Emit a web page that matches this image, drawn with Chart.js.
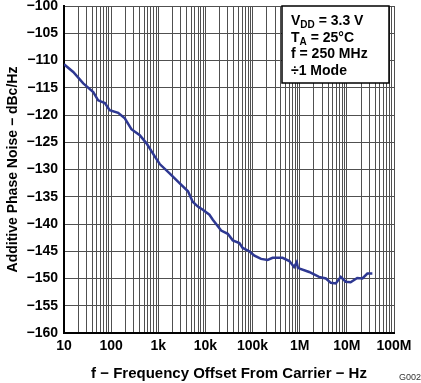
<!DOCTYPE html>
<html>
<head>
<meta charset="utf-8">
<script src="https://cdn.jsdelivr.net/npm/chart.js@4/dist/chart.umd.min.js"></script>
<style>
  html, body { margin: 0; padding: 0; background: #fff; }
  canvas { display: block; }
</style>
</head>
<body>
<canvas id="noiseChart" width="421" height="383"></canvas>
<script>
/* Данные кривой: частота отстройки (Гц) и фазовый шум (dBc/Hz) */
const freqHz = [
    10, 15.7, 25.6, 41.7, 53, 73.6, 93, 141, 195, 269, 405, 562, 841,
    1072, 1738, 2818, 4266, 5370, 6918, 8810, 12160, 14350, 21580, 29790,
    38020, 52480, 61660, 85110, 109600, 151400, 208900, 266100, 432500,
    602600, 758600, 865000, 912000, 1.0e6, 1.585e6, 2.57e6, 3.59e6,
    4.57e6, 5.82e6, 7.41e6, 9.48e6, 1.2e7, 1.66e7, 2.14e7, 2.72e7, 3.47e7
];
const noiseDb = [
    -110.7, -112.1, -114.2, -115.8, -117.3, -117.8, -119.1, -119.6, -120.6,
    -122.6, -123.7, -125.2, -127.6, -129.0, -130.7, -132.5, -134.0, -135.9,
    -136.8, -137.4, -138.3, -139.2, -141.2, -141.8, -143.0, -143.5, -144.4,
    -145.0, -145.8, -146.4, -146.6, -146.2, -146.2, -146.8, -147.9, -147.0,
    -148.0, -148.2, -148.8, -149.7, -150.0, -150.8, -150.9, -149.7, -150.6,
    -150.7, -149.9, -150.0, -149.1, -149.1
];

/* Подписи оси X (декады) */
const decadeValues = [10, 100, 1e3, 1e4, 1e5, 1e6, 1e7, 1e8];
const decadeLabels = ["10", "100", "1k", "10k", "100k", "1M", "10M", "100M"];

/* Деления оси Y */
const yTicks = [-160, -155, -150, -145, -140, -135, -130, -125, -120, -115, -110, -105, -100];

/* Текст в рамке условий */
const condLines = [
    ["V", "DD", " = 3.3 V"],
    ["T", "A", " = 25°C"],
    ["f = 250 MHz", "", ""],
    ["÷1 Mode", "", ""]
];

const FONT = "'Liberation Sans', Arial, sans-serif";

// все деления 1..9 в каждой декаде
function buildLogTicks() {
    const ticks = [];
    for (let i = 0; i < decadeValues.length - 1; i++) {
        for (let m = 1; m <= 9; m++) ticks.push({ value: decadeValues[i] * m });
    }
    ticks.push({ value: decadeValues[decadeValues.length - 1] });
    return ticks;
}

function decadeLabel(v) {
    const idx = decadeValues.findIndex(d => Math.abs(d - v) / d < 1e-6);
    return idx >= 0 ? decadeLabels[idx] : "";
}

/* Рамка с условиями измерения и шифр графика */
const annotationsPlugin = {
    id: "annotations",
    afterDraw(chart) {
        const ctx = chart.ctx;
        const area = chart.chartArea;
        ctx.save();

        const bx = 282, by = area.top, bw = 107, bh = 77;
        ctx.fillStyle = "#fff";
        ctx.fillRect(bx, by, bw, bh);
        ctx.strokeStyle = "#000";
        ctx.lineWidth = 1.5;
        ctx.strokeRect(bx, by, bw, bh);

        ctx.fillStyle = "#000";
        ctx.textBaseline = "middle";
        condLines.forEach((parts, i) => {
            const y = area.top + 15.5 + i * 16.5;
            let x = 291;
            ctx.font = "bold 14px " + FONT;
            ctx.fillText(parts[0], x, y);
            x += ctx.measureText(parts[0]).width;
            if (parts[1]) {
                ctx.font = "bold 10px " + FONT;
                ctx.fillText(parts[1], x, y + 4);
                x += ctx.measureText(parts[1]).width;
            }
            if (parts[2]) {
                ctx.font = "bold 14px " + FONT;
                ctx.fillText(parts[2], x, y);
            }
        });

        ctx.font = "9px " + FONT;
        ctx.fillStyle = "#333";
        ctx.textAlign = "right";
        ctx.fillText("G002", 421, 378);
        ctx.restore();
    }
};

const points = freqHz.map((f, i) => ({ x: f, y: noiseDb[i] }));

new Chart(document.getElementById("noiseChart"), {
    type: "line",
    data: {
        datasets: [{
            data: points,
            borderColor: "#2e3892",
            borderWidth: 2.5,
            pointRadius: 0,
            tension: 0,
            fill: false
        }]
    },
    options: {
        responsive: false,
        animation: false,
        layout: { padding: { top: 6, right: 27, left: 0, bottom: 0 } },
        plugins: {
            legend: { display: false },
            tooltip: { enabled: false }
        },
        scales: {
            x: {
                type: "logarithmic",
                min: 10,
                max: 1e8,
                afterBuildTicks: scale => { scale.ticks = buildLogTicks(); },
                afterFit: scale => {
                    scale.height = 50;
                    scale.paddingLeft = 0;
                    scale.paddingRight = 0;
                },
                grid: { color: "#505050", lineWidth: 1, drawTicks: false },
                border: { color: "#000", width: 2 },
                ticks: {
                    autoSkip: false,
                    maxRotation: 0,
                    padding: 5,
                    color: "#000",
                    font: { family: FONT, size: 14, weight: "bold" },
                    callback: v => decadeLabel(v)
                },
                title: {
                    display: true,
                    text: "f − Frequency Offset From Carrier − Hz",
                    color: "#000",
                    font: { family: FONT, size: 15, weight: "bold" },
                    padding: { top: 1, bottom: 0 }
                }
            },
            y: {
                min: -160,
                max: -100,
                afterBuildTicks: scale => { scale.ticks = yTicks.map(v => ({ value: v })); },
                afterFit: scale => {
                    scale.width = 64;
                    scale.paddingTop = 0;
                    scale.paddingBottom = 0;
                },
                grid: { color: "#505050", lineWidth: 1, drawTicks: false },
                border: { color: "#000", width: 2 },
                ticks: {
                    padding: 6,
                    color: "#000",
                    font: { family: FONT, size: 14, weight: "bold" },
                    callback: v => "−" + Math.abs(v)
                },
                title: {
                    display: true,
                    text: "Additive Phase Noise − dBc/Hz",
                    color: "#000",
                    font: { family: FONT, size: 14, weight: "bold" },
                    padding: { top: 5, bottom: 0 }
                }
            }
        }
    },
    plugins: [annotationsPlugin]
});
</script>
</body>
</html>
